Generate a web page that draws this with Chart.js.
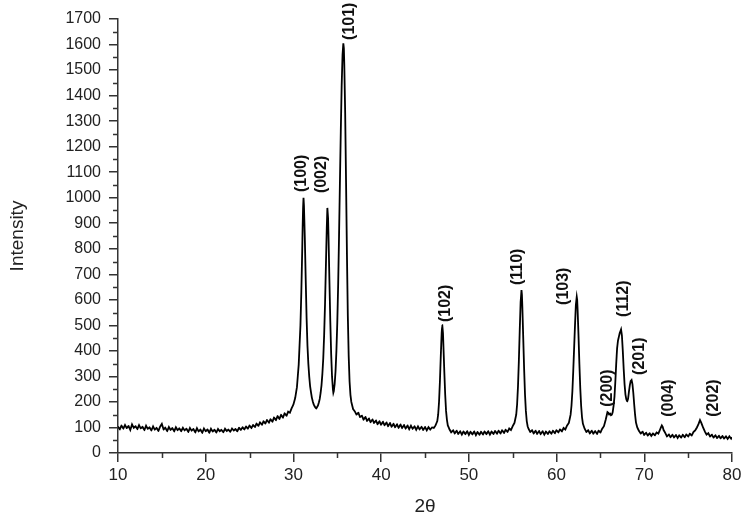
<!DOCTYPE html>
<html lang="en">
<head>
    <meta charset="UTF-8">
    <title>XRD pattern</title>
    <script src="https://cdn.jsdelivr.net/npm/chart.js"></script>
    <style>
        body {
            margin: 0;
            background: white;
        }
        #chart-container {
            width: 749px;
            height: 518px;
            position: relative;
        }
    </style>
</head>
<body>
    <div id="chart-container">
        <canvas id="xrdChart"></canvas>
    </div>

    <script>
        // 2theta / intensity pairs
        const scan = [
            [10.0,104],[10.2,92],[10.4,108],[10.6,95],[10.8,110],[11.0,97],[11.2,106],[11.4,90],[11.6,112],[11.8,99],
            [12.0,105],[12.2,93],[12.4,109],[12.6,96],[12.8,103],[13.0,89],[13.2,107],[13.4,94],[13.6,101],[13.8,88],
            [14.0,104],[14.2,91],[14.4,99],[14.6,86],[14.8,103],[15.0,114],[15.2,92],[15.4,100],[15.6,85],[15.8,102],
            [16.0,90],[16.2,98],[16.4,84],[16.6,101],[16.8,89],[17.0,97],[17.2,85],[17.4,99],[17.6,88],[17.8,96],
            [18.0,82],[18.2,98],[18.4,87],[18.6,95],[18.8,80],[19.0,97],[19.2,84],[19.4,93],[19.6,78],[19.8,96],
            [20.0,85],[20.2,93],[20.4,79],[20.6,95],[20.8,84],[21.0,92],[21.2,80],[21.4,94],[21.6,85],[21.8,91],
            [22.0,81],[22.2,95],[22.4,86],[22.6,92],[22.8,83],[23.0,96],[23.2,88],[23.4,94],[23.6,85],[23.8,99],
            [24.0,90],[24.2,101],[24.4,92],[24.6,104],[24.8,95],[25.0,108],[25.2,97],[25.4,110],[25.6,101],[25.8,116],
            [26.0,106],[26.2,121],[26.4,110],[26.6,125],[26.8,115],[27.0,130],[27.2,118],[27.4,133],[27.6,122],[27.8,140],
            [28.0,128],[28.2,145],[28.4,133],[28.6,150],[28.8,138],[29.0,156],[29.2,145],[29.4,162],[29.6,158],[29.8,176],
            [30.0,190],[30.2,215],[30.4,258],[30.6,345],[30.8,500],[30.9,630],[31.0,790],[31.05,885],[31.1,960],[31.15,1000],
            [31.2,968],[31.25,905],[31.3,840],[31.4,680],[31.5,530],[31.6,420],[31.7,350],[31.8,300],[31.9,262],[32.0,238],
            [32.1,217],[32.2,203],[32.3,191],[32.4,184],[32.5,178],[32.6,174],[32.7,180],[32.8,186],[32.9,198],[33.0,212],
            [33.1,235],[33.2,265],[33.3,310],[33.4,370],[33.5,460],[33.6,580],[33.7,730],[33.8,880],[33.87,960],[33.95,920],
            [34.0,850],[34.1,680],[34.2,520],[34.3,390],[34.4,300],[34.5,250],[34.55,236],[34.6,242],[34.7,270],[34.8,320],
            [34.9,400],[35.0,510],[35.1,660],[35.2,850],[35.3,1060],[35.4,1260],[35.5,1440],[35.6,1560],[35.69,1605],[35.75,1585],
            [35.8,1520],[35.9,1330],[36.0,1060],[36.1,780],[36.2,540],[36.3,380],[36.4,280],[36.5,228],[36.6,200],[36.7,186],
            [36.8,172],[37.0,163],[37.2,150],[37.4,158],[37.6,140],[37.8,147],[38.0,130],[38.2,142],[38.4,125],[38.6,136],
            [38.8,120],[39.0,132],[39.2,117],[39.4,128],[39.6,112],[39.8,125],[40.0,110],[40.2,123],[40.4,108],[40.6,120],
            [40.8,104],[41.0,118],[41.2,102],[41.4,115],[41.6,100],[41.8,113],[42.0,98],[42.2,112],[42.4,97],[42.6,110],
            [42.8,95],[43.0,108],[43.2,93],[43.4,107],[43.6,94],[43.8,105],[44.0,91],[44.2,104],[44.4,92],[44.6,103],
            [44.8,90],[45.0,102],[45.2,89],[45.4,101],[45.6,92],[45.8,100],[46.0,98],[46.2,108],[46.4,125],[46.5,150],
            [46.6,200],[46.7,280],[46.8,380],[46.9,470],[46.97,501],[47.05,470],[47.1,420],[47.2,320],[47.3,230],[47.4,165],
            [47.5,130],[47.6,108],[47.8,92],[48.0,80],[48.2,90],[48.4,76],[48.6,88],[48.8,74],[49.0,86],[49.2,72],
            [49.4,85],[49.6,73],[49.8,86],[50.0,71],[50.2,84],[50.4,72],[50.6,85],[50.8,70],[51.0,83],[51.2,71],
            [51.4,84],[51.6,72],[51.8,85],[52.0,73],[52.2,86],[52.4,72],[52.6,85],[52.8,74],[53.0,87],[53.2,75],
            [53.4,88],[53.6,76],[53.8,90],[54.0,78],[54.2,92],[54.4,82],[54.6,96],[54.8,90],[55.0,105],[55.2,118],
            [55.4,150],[55.5,190],[55.6,260],[55.7,360],[55.8,480],[55.9,590],[56.0,638],[56.05,620],[56.1,570],[56.2,450],
            [56.3,330],[56.4,230],[56.5,165],[56.6,125],[56.7,105],[56.8,95],[57.0,82],[57.2,90],[57.4,76],[57.6,88],
            [57.8,74],[58.0,87],[58.2,73],[58.4,86],[58.6,72],[58.8,85],[59.0,74],[59.2,86],[59.4,75],[59.6,88],
            [59.8,77],[60.0,90],[60.2,80],[60.4,93],[60.6,84],[60.8,98],[61.0,92],[61.2,108],[61.4,118],[61.6,150],
            [61.7,185],[61.8,240],[61.9,320],[62.0,410],[62.1,500],[62.2,580],[62.3,612],[62.35,600],[62.4,560],[62.5,460],
            [62.6,350],[62.7,255],[62.8,185],[62.9,140],[63.0,115],[63.2,95],[63.4,82],[63.6,90],[63.8,76],[64.0,88],
            [64.2,75],[64.4,87],[64.6,74],[64.8,88],[65.0,80],[65.2,95],[65.4,105],[65.6,130],[65.8,160],[65.9,157],
            [66.0,150],[66.1,155],[66.2,148],[66.3,150],[66.4,160],[66.5,185],[66.6,220],[66.7,280],[66.8,350],[66.9,410],
            [67.0,440],[67.1,455],[67.2,470],[67.35,484],[67.45,460],[67.55,400],[67.65,330],[67.75,270],[67.85,230],[67.95,210],
            [68.05,202],[68.15,212],[68.25,240],[68.35,265],[68.45,282],[68.55,286],[68.65,270],[68.75,235],[68.85,190],[68.95,150],
            [69.05,120],[69.2,100],[69.4,86],[69.6,76],[69.8,84],[70.0,70],[70.2,80],[70.4,68],[70.6,78],[70.8,67],
            [71.0,77],[71.2,69],[71.4,80],[71.6,76],[71.8,92],[72.0,108],[72.1,102],[72.2,90],[72.4,78],[72.6,64],
            [72.8,73],[73.0,61],[73.2,72],[73.4,60],[73.6,71],[73.8,59],[74.0,70],[74.2,60],[74.4,72],[74.6,61],
            [74.8,73],[75.0,64],[75.2,76],[75.4,68],[75.6,82],[75.8,88],[76.0,100],[76.2,115],[76.35,129],[76.5,118],
            [76.7,100],[76.9,85],[77.1,72],[77.3,78],[77.5,64],[77.7,72],[77.9,60],[78.1,70],[78.3,58],[78.5,68],
            [78.7,57],[78.9,67],[79.1,56],[79.3,66],[79.5,55],[79.7,65],[79.9,56],[80.0,62]
        ];

        // Miller index labels: text, 2theta and intensity where the text starts
        const peakNames = ['(100)', '(002)', '(101)', '(102)', '(110)', '(103)', '(200)', '(112)', '(201)', '(004)', '(202)'];
        const peakLabelX = [30.94, 33.22, 36.45, 47.36, 55.55, 60.77, 65.83, 67.68, 69.52, 72.74, 77.95];
        const peakLabelY = [1022, 1018, 1618, 513, 658, 580, 181, 533, 306, 142, 142];

        const xMinorTicks = [15, 25, 35, 45, 55, 65, 75];
        const yMinorTicks = [50, 150, 250, 350, 450, 550, 650, 750, 850, 950, 1050, 1150, 1250, 1350, 1450, 1550, 1650];

        const axisColor = '#333';
        const fontFamily = 'Arial, "Liberation Sans", sans-serif';

        // rotated hkl labels above the peaks
        const peakLabels = {
            id: 'peakLabels',
            afterDatasetsDraw(chart) {
                const ctx = chart.ctx;
                const xs = chart.scales.x, ys = chart.scales.y;
                ctx.save();
                ctx.fillStyle = '#111';
                ctx.font = 'bold 16px ' + fontFamily;
                ctx.textAlign = 'left';
                ctx.textBaseline = 'middle';
                peakNames.forEach((name, i) => {
                    ctx.save();
                    ctx.translate(xs.getPixelForValue(peakLabelX[i]), ys.getPixelForValue(peakLabelY[i]));
                    ctx.rotate(-Math.PI / 2);
                    ctx.fillText(name, 0, 0);
                    ctx.restore();
                });
                ctx.restore();
            }
        };

        // short minor ticks between the labelled ones
        const minorTicks = {
            id: 'minorTicks',
            afterDraw(chart) {
                const ctx = chart.ctx;
                const xs = chart.scales.x, ys = chart.scales.y;
                const area = chart.chartArea;
                ctx.save();
                ctx.strokeStyle = axisColor;
                ctx.lineWidth = 1.5;
                ctx.beginPath();
                xMinorTicks.forEach(v => {
                    const px = Math.round(xs.getPixelForValue(v)) + 0.5;
                    ctx.moveTo(px, area.bottom);
                    ctx.lineTo(px, area.bottom + 5);
                });
                yMinorTicks.forEach(v => {
                    const py = Math.round(ys.getPixelForValue(v)) + 0.5;
                    ctx.moveTo(area.left, py);
                    ctx.lineTo(area.left - 5, py);
                });
                ctx.stroke();
                ctx.restore();
            }
        };

        const ctxXrd = document.getElementById('xrdChart').getContext('2d');
        const chartXrd = new Chart(ctxXrd, {
            type: 'line',
            data: {
                datasets: [
                    {
                        label: 'Intensity',
                        data: scan.map(p => ({ x: p[0], y: p[1] })),
                        borderColor: '#000',
                        borderWidth: 1.8,
                        pointRadius: 0,
                        tension: 0.001, // keeps Chart.js off its per-pixel fast path
                        fill: false,
                    },
                ],
            },
            plugins: [peakLabels, minorTicks],
            options: {
                responsive: true,
                maintainAspectRatio: false,
                animation: false,
                layout: {
                    padding: { top: 19, right: 17, left: 0, bottom: 0 },
                },
                plugins: {
                    legend: { display: false },
                    tooltip: { enabled: false },
                },
                scales: {
                    x: {
                        type: 'linear',
                        min: 10,
                        max: 80,
                        afterFit: scale => { scale.height = 65; },
                        ticks: {
                            stepSize: 10,
                            padding: 3,
                            color: '#222',
                            font: { family: fontFamily, size: 17 },
                            maxRotation: 0,
                            callback: v => String(v),
                        },
                        grid: {
                            drawOnChartArea: false,
                            tickLength: 9,
                            tickColor: axisColor,
                            lineWidth: 1.5,
                        },
                        border: { color: axisColor, width: 1.5 },
                        title: {
                            display: true,
                            text: '2θ',
                            color: '#222',
                            font: { family: fontFamily, size: 19 },
                            padding: { top: 0, bottom: 0 },
                        },
                    },
                    y: {
                        min: 0,
                        max: 1700,
                        afterFit: scale => { scale.width = 118; },
                        ticks: {
                            stepSize: 100,
                            padding: 8,
                            color: '#222',
                            font: { family: fontFamily, size: 16 },
                            callback: v => String(v),
                        },
                        grid: {
                            drawOnChartArea: false,
                            tickLength: 9,
                            tickColor: axisColor,
                            lineWidth: 1.5,
                        },
                        border: { color: axisColor, width: 1.5 },
                        title: {
                            display: true,
                            text: 'Intensity',
                            color: '#222',
                            font: { family: fontFamily, size: 19 },
                            padding: { top: 6, bottom: 0 },
                        },
                    },
                },
            },
        });
    </script>
</body>
</html>
